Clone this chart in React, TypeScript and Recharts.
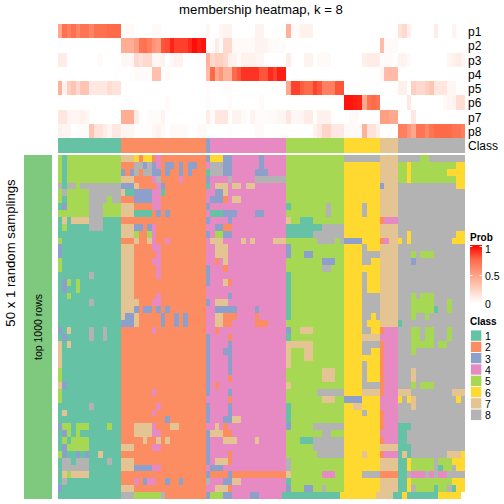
import { ScatterChart, Scatter, XAxis, YAxis } from 'recharts';

// class of every consensus column, left to right
const classRuns = '1x14 2x19 3 4x17 5x13 6x8 7x4 8x15';
const classIds = ['1', '2', '3', '4', '5', '6', '7', '8'];
const probLabels = ['p1', 'p2', 'p3', 'p4', 'p5', 'p6', 'p7', 'p8'];

const classColors: Record<string, string> = {
  '1': '#66C2A5',
  '2': '#FC8D62',
  '3': '#8DA0CB',
  '4': '#E78AC3',
  '5': '#A6D854',
  '6': '#FFD92F',
  '7': '#E5C494',
  '8': '#B3B3B3',
};

// membership in percent, one list per class row
const p1 = [
  45, 72, 65, 72, 62, 70, 70, 62, 72, 72, 72, 75, 75, 75,
  0, 3, 3, 0, 0, 0, 0, 3, 3, 0, 0, 0, 0, 0, 0, 0, 0, 0, 0,
  5,
  0, 0, 5, 6, 6, 0, 0, 0, 0, 0, 6, 6, 0, 0, 0, 0, 0,
  40, 3, 2, 7, 7, 7, 0, 0, 0, 0, 0, 0, 0,
  0, 0, 0, 0, 0, 0, 0, 0,
  0, 0, 0, 0,
  15, 20, 8, 0, 0, 0, 0, 0, 10, 0, 0, 0, 6, 0, 0,
];
const p2 = [
  0, 0, 0, 0, 0, 0, 0, 0, 0, 0, 0, 0, 0, 0,
  42, 42, 42, 50, 70, 72, 65, 55, 50, 80, 82, 92, 85, 85, 85, 90, 97, 92, 95,
  0,
  2, 10, 2, 20, 20, 3, 3, 3, 3, 3, 6, 6, 6, 3, 2, 2, 2,
  0, 0, 0, 0, 0, 0, 0, 0, 0, 0, 0, 0, 0,
  0, 0, 0, 0, 0, 0, 0, 0,
  35, 3, 3, 3,
  0, 0, 0, 0, 0, 0, 0, 0, 0, 0, 0, 0, 0, 0, 0,
];
const p3 = [
  10, 10, 0, 0, 0, 0, 0, 0, 0, 3, 0, 0, 0, 0,
  4, 4, 4, 20, 15, 20, 20, 4, 4, 6, 0, 4, 6, 6, 0, 0, 0, 0, 0,
  40,
  20, 25, 25, 20, 8, 6, 2, 7, 7, 7, 5, 5, 0, 0, 0, 0, 0,
  10, 0, 0, 0, 6, 6, 0, 3, 3, 3, 0, 0, 0,
  0, 0, 0, 0, 8, 10, 10, 10,
  2, 2, 2, 0,
  6, 6, 3, 0, 0, 0, 0, 0, 0, 0, 0, 5, 8, 10, 5,
];
const p4 = [
  0, 0, 0, 0, 0, 0, 0, 0, 0, 0, 0, 0, 0, 0,
  0, 0, 1, 2, 2, 2, 2, 33, 33, 0, 3, 0, 0, 0, 0, 0, 0, 0, 0,
  35,
  75, 45, 55, 40, 40, 75, 80, 88, 88, 88, 88, 80, 80, 90, 85, 93, 93,
  0, 0, 0, 0, 0, 0, 0, 0, 0, 0, 0, 0, 0,
  0, 0, 0, 0, 0, 0, 0, 0,
  5, 35, 35, 35,
  0, 0, 0, 0, 0, 0, 0, 0, 0, 0, 0, 0, 0, 0, 0,
];
const p5 = [
  40, 6, 25, 30, 20, 30, 30, 12, 12, 12, 12, 18, 15, 15,
  0, 0, 0, 0, 0, 0, 0, 0, 0, 0, 0, 0, 0, 0, 0, 0, 0, 0, 0,
  2,
  0, 0, 0, 2, 2, 0, 0, 0, 0, 0, 0, 0, 0, 0, 0, 0, 0,
  45, 85, 85, 78, 75, 75, 85, 80, 65, 65, 65, 80, 80,
  0, 0, 0, 0, 0, 0, 0, 0,
  0, 0, 0, 0,
  8, 8, 0, 25, 20, 20, 25, 30, 13, 13, 13, 5, 5, 0, 0,
];
const p6 = [
  0, 0, 0, 0, 0, 0, 0, 0, 0, 0, 0, 0, 0, 0,
  0, 0, 0, 0, 0, 0, 0, 0, 0, 0, 2, 0, 0, 0, 0, 0, 0, 0, 0,
  2,
  0, 0, 0, 0, 2, 0, 0, 0, 0, 0, 0, 3, 0, 0, 0, 0, 0,
  0, 0, 0, 0, 0, 0, 0, 0, 0, 0, 0, 0, 0,
  95, 95, 93, 92, 45, 70, 75, 70,
  0, 0, 0, 0,
  0, 0, 12, 0, 0, 0, 0, 0, 0, 0, 3, 5, 6, 17, 17,
];
const p7 = [
  13, 13, 5, 5, 5, 7, 5, 0, 0, 0, 0, 0, 0, 0,
  42, 42, 42, 10, 0, 0, 2, 2, 2, 6, 0, 0, 0, 0, 0, 0, 0, 0, 0,
  10,
  2, 13, 13, 13, 1, 6, 6, 3, 0, 6, 2, 2, 2, 3, 3, 5, 5,
  13, 4, 4, 5, 10, 10, 1, 7, 7, 7, 0, 0, 0,
  0, 3, 3, 0, 0, 0, 0, 0,
  50, 50, 45, 45,
  0, 0, 0, 12, 0, 0, 0, 0, 0, 0, 0, 0, 0, 0, 0,
];
const p8 = [
  6, 5, 5, 0, 2, 2, 2, 30, 15, 15, 10, 5, 12, 12,
  5, 5, 5, 1, 1, 1, 1, 4, 6, 3, 0, 3, 3, 3, 3, 0, 0, 3, 3,
  0,
  0, 0, 0, 0, 2, 0, 0, 0, 0, 0, 3, 3, 0, 0, 0, 0, 0,
  0, 0, 0, 0, 0, 0, 7, 12, 22, 22, 12, 12, 12,
  3, 3, 3, 3, 40, 15, 15, 8,
  0, 0, 0, 0,
  65, 65, 55, 45, 70, 70, 60, 70, 75, 75, 75, 75, 70, 70, 65,
];

// sampling rows, split per consensus class. "5x3" means class 5, three cells
const block1 = [
  '5 1 5x12', '5 1 5x12', '5 1 5x12', '5 1 5x12', '8 1 8 8 5 8x9',
  '5 8 5x5 8x7', '5 1 5x5 8x4 5 8x2', '1 3 5x5 8x3 5x4', '5x7 8x3 5x4', '1 7 1 7x4 8x3 1x4',
  '1 5 1x5 8x3 1x4', '1x14', '5 1x13', '3 1x13', '3 1x13',
  '5 1x13', '5 1x13', '1x7 8 1x6', '1 3 5 1 5 1x9', '1 3 1 1 5 1x9',
  '1 1 5 1x11', '1x7 8 1x6', '1x14', '1x14', '1x14',
  '3 1 7 1x4 8 1 1 8 1x3', '1 3 1x5 8 1 1 8 1x3', '7 1 7 1x11', '7 1x13', '7 1x13',
  '7 1x13', '5 1x13', '5 1x13', '7 3 1x12', '5 1x13',
  '5 1x13', '1x7 8 1x6', '1 7 1x12', '1x14', '3 5 5 1 5 5 5 1x4 5 1 1',
  '1 3 5 1 5 1x9', '1 5 1 5x4 1x7', '1 3 5x5 1x7', '5 3 1 1 3 1 3 1 1 7 1x4', '1 8 8 1 8 8 8 1x4 8 1 1',
  '1 8x6 1x7', '1 7 5 7x4 1x7', '1 8 1x12', '3 1x13', '1x14',
];
const block2 = [
  '7x3 6 2 6 6 2 4 2x10', '2x3 8 8 3 8 3 4 2 3 3 2 3 2 3 3 2 2', '3 2 3 8 2 8 8 3 3 2 3 2 2 3 2 3 2x3', '7x3 2x4 4 8 2x4 4 2x5', '3x3 7 2x4 4 3 2x9',
  '7 1 1 3x4 4 4 1 2x9', '2x3 3x4 4 4 2x10', '7x3 2x4 4 4 2x10', '7x3 1x4 2 3 2 3 2x8', '2x19',
  '7x3 3 3 2 3 4 2x11', '7x3 5 2 2 5 4 2x11', '2x3 7 2 2 7 4 2 2 4 2x8', '7x3 2x4 4 4 2x10', '7x3 2x5 4 2x10',
  '7x3 2x4 4 4 2x10', '7x3 2x5 4 2x10', '7x3 2x5 4 2x10', '7x3 2x16', '7x3 2x16',
  '7x3 2x5 4 2x10', '7x4 2x3 4 4 2x10', '7x3 3 2 3 3 2 3 2 3 2x8', '7 3 3 7 2x5 3 2 2 3 2 3 2x4', '3x3 7 2x5 3 2 2 3 2 3 2x4',
  '2x7 4 2x11', '2x19', '2x19', '2x19', '2x19',
  '2x19', '2x19', '2x19', '2x19', '2x7 4 2x11',
  '2x19', '2x8 4 2x10', '2x7 4 2x11', '2x10 3 2x8', '2x3 7x4 4 2x3 7 7 2x6',
  '2x3 7x4 4 4 2x10', '2x5 7 2 2 7 2 7 2x8', '7x3 2x4 4 4 2x10', '2x19', '7x3 2x16',
  '7x3 3x4 4 4 2x10', '2x19', '2x3 4 2 3 4 4 2 2 3 2 2 3 2x5', '7x3 2x16', '8x3 5x6 8 2x9',
];
const block3 = [
  '3', '4', '1', '3', '1', '4', '4', '3', '4', '3',
  '4', '3', '4', '4', '4', '4', '3', '3', '3', '4',
  '4', '3', '4', '4', '4', '4', '3', '3', '3', '3',
  '3', '3', '3', '3', '3', '4', '3', '3', '3', '4',
  '3', '3', '3', '3', '3', '4', '3', '8', '4', '3',
];
const block4 = [
  '6x3 3 3 4x6 3 4x5', '8x3 3 3 4x6 3 4x5', '8x3 3 3 4x5 3x3 4x4', '4x4 8 4x5 8x7', '4 7x3 4 7 7 4 7 7 4x7',
  '4 3 3 7 4x13', '3x3 2 4 7 7 4x10', '4x17', '1x3 3x3 4x4 3 3 4x5', '4x4 3 4x12',
  '4 3 3 2 2 4x12', '4 5 5 3 3 4x12', '7x3 4x4 7 4 7 4x4 7x3', '4 7x3 4x13', '4 7x3 4x13',
  '4 2 4 7 4x13', '4x3 2 4x13', '4x17', '4x3 7 2 4x12', '4x17',
  '4x4 3 4x12', '4 7x3 4x13', '4 3x5 4x4 3 4x6', '4 7 7 2x3 4x4 2 4x6', '4 7 7 2 2 4x5 2x3 4x4',
  '4 2 4x15', '4x4 2 4x12', '4x4 3 4x12', '4x3 3 3 4x12', '4x4 3 4x12',
  '4x4 3 4x12', '4x4 3 4x12', '4x4 2 4x12', '4 2 4x15', '4x4 3 4x12',
  '4x4 2 4x12', '4x4 3 4x12', '4x4 3 4x12', '4x3 3 3 7 7 4x10', '4 7 4 2 4x13',
  '7x3 2 2 4x12', '4x3 7x3 4x4 7 4x6', '4x17', '4x4 2 4x12', '4 7x3 2 4x12',
  '3x3 4x14', '2x4 3 2x12', '4x3 3 3 7 7 4x10', '4 7x3 2 4x12', '5x3 3 3 4x4 3 3 4x5',
];
const block5 = [
  '5x13', '5x13', '5x13', '5x13', '5x13',
  '5x13', '5x13', '1 5x8 8 5x3', '5x9 8 5x3', '7 5 5 1x3 5x7',
  '1x8 8x5', '1x6 8x7', '5x7 8x4 5 8', '3 5x12', '3 5x3 3 3 5x7',
  '5x8 3x3 5 5', '5x8 8 8 5x3', '1 5x12', '1 5x12', '1 5x12',
  '1 5x12', '1 5x12', '1 5x12', '1 5x12', '5x13',
  '3 5 5 7x3 5x7', '1 5x12', '7x6 5x7', '7 5x3 7 7 5x7', '7 5x3 7 7 5x7',
  '7 5x12', '5x8 7x3 5 5', '5x8 7x3 5 5', '7 5x12', '5x7 8x6',
  '5x8 7x3 5 5', '1 5x12', '1 5x12', '1 5x12', '3 5x5 8x7',
  '5x8 8 8 5x3', '5x3 1x3 8x7', '5x6 8x7', '5x7 8x6', '8 5x12',
  '8 5x12', '7 5x7 4x3 5 5', '1 5x12', '3 5x3 3 3 5 5 8 5x4', '1x13',
];
const block6 = [
  '8x8', '6x8', '6x8', '6x8', '6x8',
  '6x8', '6x8', '6x4 8 6x3', '6x4 8 6x3', '6x8',
  '6x8', '6x8', '3x4 6x4', '6x4 8 6x3', '6x4 8x4',
  '6x4 8 8 6 6', '6x8', '6x4 8 6x3', '6x4 8 6x3', '6x4 8 6x3',
  '6x4 8x4', '6x4 8x4', '6x4 8x4', '6x4 8 8 6 8', '6x4 8 6x3',
  '6x4 8 8 6 6', '6x4 7x4', '6x4 8x4', '6x4 8 8 6 6', '6x8',
  '6x4 8 6x3', '6x4 8 6x3', '6x4 8 6x3', '6x4 8x4', '6x4 7x4',
  '3x4 6x4', '6 6 7 7 6x4', '6x4 8 6x3', '6x8', '6x8',
  '6x8', '6x8', '6x8', '6x4 7 6x3', '6x8',
  '6x8', '6x4 8x4', '6x8', '6x8', '6x8',
];
const block7 = [
  '7x4', '7x4', '7x4', '7x4', '3 7x3',
  '7x4', '7x4', '7x4', '7x4', '2 4x3',
  '7x4', '7x4', '2 4 7 7', '7x4', '7x4',
  '7x4', '7x4', '7x4', '7x4', '7x4',
  '7x4', '7x4', '7x4', '7x4', '7x4',
  '2 4x3', '4x4', '2 4x3', '2 4x3', '2 4x3',
  '2 4x3', '2 4x3', '2 4x3', '2 4x3', '2 4x3',
  '4x4', '4x4', '2 4x3', '2 4x3', '2 4x3',
  '4x4', '2 4x3', '7x4', '2 4x3', '7x4',
  '7x4', '2x4', '7x4', '7x4', '7x4',
];
const block8 = [
  '8x5 5 5 8x8', '5 5 6 5x10 6 6', '5 5 6 5x8 6x4', '5 5 6 5x10 6 6', '8x13 6 6',
  '8x15', '8x15', '8x15', '8x15', '8x15',
  '8x15', '8 8 6 8x10 6 6', '6 8 6 8x9 6x3', '8x15', '8x3 5 8 5x3 8x7',
  '8x3 3 8x11', '8x15', '8x15', '8x15', '8x15',
  '8x3 5 8 5x3 8x7', '8x3 5x5 8x3 5 8x3', '8x3 5x5 1 8 8 5 8x3', '8x3 5 8 8 5 8x8', '1 8x14',
  '8x3 5 5 8 5 5 8x3 5 8x3', '8x3 5 5 8 5 5 8x3 5 8x3', '8x3 5x5 8 5 5 8x4', '8x3 5 8x11', '8x15',
  '8x15', '8x3 7 8x11', '8x3 7 8x11', '8x3 5 8 5x3 8x7', '7x3 8x9 7x3',
  '6 8 6 7 8x9 6 8', '8x3 7 8x11', '8x15', '8x15', '1x3 8x12',
  '1 1 8x13', '1 1 8x13', '1x3 8x12', '1 7 1 8x8 7x3 6', '1 1 6 5x5 8 5x3 6x3',
  '1 1 6 5x5 8 1 5 5 8 6 6', '1 1 8 4x3 8 4 8 4 4 8x4', '1 1 6 5x9 6x3', '1 1 6 8 5x4 1 5 5 8 1 6 6', '1 1 6 1x7 6x5',
];

const colCount = 91;
const rowCount = 50;

function expand(spec: string): string[] {
  const out: string[] = [];
  for (const token of spec.split(' ')) {
    const [id, n] = token.split('x');
    for (let i = 0; i < Number(n || 1); i++) out.push(id);
  }
  return out;
}

function mix(a: number[], b: number[], t: number) {
  return a.map((v, i) => Math.round(v + (b[i] - v) * t));
}

// white to red, same bend as the key
const rampStops = [
  [255, 255, 255],
  [255, 207, 192],
  [255, 158, 129],
  [255, 106, 72],
  [255, 0, 0],
];
function probColor(pct: number) {
  const pos = (pct / 100) * (rampStops.length - 1);
  const i = Math.min(Math.floor(pos), rampStops.length - 2);
  const [r, g, b] = mix(rampStops[i], rampStops[i + 1], pos - i);
  return `rgb(${r},${g},${b})`;
}

type Cell = { x: number; y: number; fill: string };

const classCells: Cell[] = expand(classRuns).map((id, c) => ({ x: c + 0.5, y: 0.5, fill: classColors[id] }));

const probCells: Cell[] = [p1, p2, p3, p4, p5, p6, p7, p8].flatMap((row, r) =>
  row.map((v, c) => ({ x: c + 0.5, y: r + 0.5, fill: probColor(v) })),
);

const blocks = [block1, block2, block3, block4, block5, block6, block7, block8];
const sampleCells: Cell[] = [];
for (let r = 0; r < rowCount; r++) {
  const ids = blocks.flatMap((b) => expand(b[r]));
  ids.forEach((id, c) => sampleCells.push({ x: c + 0.5, y: r + 0.5, fill: classColors[id] }));
}

function CellChart(props: { data: Cell[]; rows: number; top: number; height: number }) {
  const { data, rows, top, height } = props;
  const width = 407;
  const cw = width / colCount;
  const ch = height / rows;
  return (
    <div style={{ position: 'absolute', left: 58, top }}>
      <ScatterChart width={width} height={height} margin={{ top: 0, right: 0, bottom: 0, left: 0 }}>
        <XAxis type="number" dataKey="x" domain={[0, colCount]} hide />
        <YAxis type="number" dataKey="y" domain={[0, rows]} reversed hide />
        <Scatter
          data={data}
          isAnimationActive={false}
          shape={(p: any) => (
            <rect
              x={p.cx - cw / 2}
              y={p.cy - ch / 2}
              width={cw}
              height={ch}
              fill={p.payload.fill}
              shapeRendering="crispEdges"
            />
          )}
        />
      </ScatterChart>
    </div>
  );
}

const font = '"Liberation Sans", Arial, sans-serif';

export default function App() {
  return (
    <div style={{ position: 'absolute', left: 0, top: 0, width: 504, height: 504, background: '#fff', overflow: 'hidden' }}>
      <CellChart data={probCells} rows={8} top={24} height={114} />
      <CellChart data={classCells} rows={1} top={138} height={15} />
      <CellChart data={sampleCells} rows={rowCount} top={155} height={344} />
      <svg width={504} height={504} style={{ position: 'absolute', left: 0, top: 0 }} fontFamily={font} fill="#000">
        <defs>
          <linearGradient id="prob" x1="0" y1="1" x2="0" y2="0">
            {rampStops.map((s, i) => (
              <stop key={i} offset={i / (rampStops.length - 1)} stopColor={`rgb(${s.join(',')})`} />
            ))}
          </linearGradient>
        </defs>
        <text x={261} y={14} fontSize={13.2} textAnchor="middle">
          membership heatmap, k = 8
        </text>
        {probLabels.map((label, i) => (
          <text key={label} x={468} y={36 + i * 14.25} fontSize={12}>
            {label}
          </text>
        ))}
        <text x={468} y={150} fontSize={12}>
          Class
        </text>
        <rect x={24} y={155} width={28} height={344} fill="#7FC97F" />
        <text transform="translate(15,253) rotate(-90)" fontSize={13.2} textAnchor="middle">
          50 x 1 random samplings
        </text>
        <text transform="translate(42,327) rotate(-90)" fontSize={10.5} textAnchor="middle">
          top 1000 rows
        </text>
        <text x={470} y={241} fontSize={10} fontWeight="bold">
          Prob
        </text>
        <rect x={470} y={245} width={12} height={58} fill="url(#prob)" />
        <rect x={470} y={246} width={2.4} height={1} fill="#fff" />
        <rect x={479.6} y={246} width={2.4} height={1} fill="#fff" />
        <rect x={470} y={275} width={2.4} height={1} fill="#fff" />
        <rect x={479.6} y={275} width={2.4} height={1} fill="#fff" />
        <text x={485} y={253} fontSize={10.5}>1</text>
        <text x={485} y={280} fontSize={10.5}>0.5</text>
        <text x={485} y={308} fontSize={10.5}>0</text>
        <text x={470} y={325} fontSize={10} fontWeight="bold">
          Class
        </text>
        {classIds.map((id, i) => (
          <g key={id}>
            <rect x={470.5} y={330 + i * 11.3} width={11.3} height={11.3} fill={classColors[id]} stroke="#fff" strokeWidth={0.8} />
            <text x={485} y={340 + i * 11.3} fontSize={10.5}>
              {id}
            </text>
          </g>
        ))}
      </svg>
    </div>
  );
}
